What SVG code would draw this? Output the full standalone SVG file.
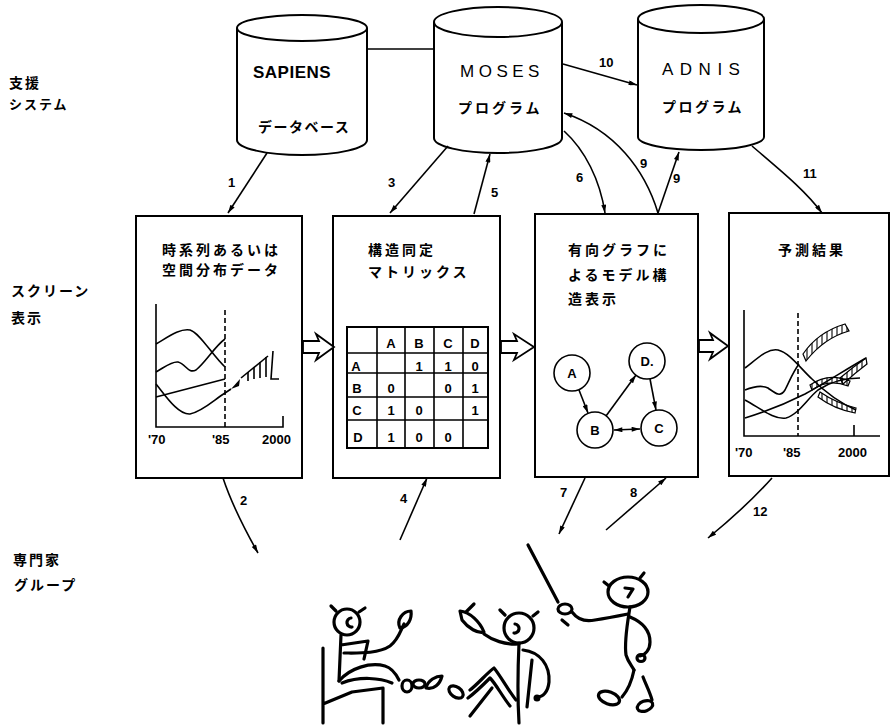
<svg xmlns="http://www.w3.org/2000/svg" width="891" height="727" viewBox="0 0 891 727">
  <style>
    .ln { fill: none; stroke: #000; stroke-width: 1.6; }
    .box { fill: #fff; stroke: #000; stroke-width: 2; }
    .cyl { fill: #fff; stroke: #000; stroke-width: 2; }
    .jp { font-family: "Noto Sans CJK JP", "Noto Sans", sans-serif; font-weight: 700; font-size: 14px; fill: #000; }
    .lat { font-family: "Liberation Sans", Arial, sans-serif; fill: #000; }
    .num { font-family: "Liberation Sans Narrow", "Liberation Sans", sans-serif; font-weight: 700; font-size: 13px; fill: #000; }
    .cell { font-family: "Liberation Sans", Arial, sans-serif; font-weight: 700; font-size: 13px; fill: #000; text-anchor: middle; }
    .fig { fill: none; stroke: #000; stroke-width: 3.2; stroke-linecap: round; stroke-linejoin: round; }
    .blk { fill: #fff; stroke: #000; stroke-width: 1.8; stroke-linejoin: miter; }
    .rib { fill: url(#hatch); stroke: #000; stroke-width: 1.2; }
  </style>
  <defs>
    <marker id="ah" viewBox="0 0 10 6" refX="10" refY="3" markerWidth="10" markerHeight="5" orient="auto-start-reverse" markerUnits="userSpaceOnUse">
      <path d="M0,0 L10,3 L0,6 Z" fill="#000"/>
    </marker>
    <pattern id="hatch" width="5" height="12" patternUnits="userSpaceOnUse">
      <line x1="2" y1="0" x2="2" y2="12" stroke="#000" stroke-width="1.1"/>
    </pattern>
  </defs>

  <rect width="891" height="727" fill="#fff"/>

  <!-- row captions -->
  <g id="captions" class="jp" letter-spacing="2">
    <text x="9" y="88">支援</text>
    <text x="9" y="109" font-size="13">システム</text>
    <text x="11" y="296">スクリーン</text>
    <text x="11" y="323">表示</text>
    <text x="13" y="565">専門家</text>
    <text x="14" y="590">グループ</text>
  </g>

  <!-- support systems -->
  <g id="sapiens">
    <path class="cyl" d="M237,28 L237,140 A65,15 0 0 0 367,140 L367,28"/>
    <ellipse class="cyl" cx="302" cy="28" rx="65" ry="13"/>
    <text class="lat" x="253" y="78" font-size="17" font-weight="700" letter-spacing="0.5">SAPIENS</text>
    <text class="jp" x="258" y="132" letter-spacing="1.5">データベース</text>
  </g>
  <g id="moses">
    <path class="cyl" d="M434,22 L434,138 A64,15 0 0 0 562,138 L562,22"/>
    <ellipse class="cyl" cx="498" cy="22" rx="64" ry="15"/>
    <text class="lat" x="460" y="77" font-size="17" letter-spacing="4.5">MOSES</text>
    <text class="jp" x="458" y="113" letter-spacing="3">プログラム</text>
  </g>
  <g id="adnis">
    <path class="cyl" d="M638,19 L638,137 A63,13 0 0 0 764,137 L764,19"/>
    <ellipse class="cyl" cx="701" cy="19" rx="63" ry="14"/>
    <text class="lat" x="662" y="75" font-size="17" letter-spacing="6.5">ADNIS</text>
    <text class="jp" x="662" y="112" letter-spacing="2.5">プログラム</text>
  </g>

  <!-- screen 1: time series -->
  <g id="screen-data">
    <rect class="box" x="136" y="216" width="166" height="262"/>
    <text class="jp" x="162" y="255" letter-spacing="3">時系列あるいは</text>
    <text class="jp" x="162" y="275" letter-spacing="3">空間分布データ</text>
    <path class="ln" d="M156,304 L156,427 L283,427 L283,416"/>
    <path class="ln" d="M225,310 L225,427" stroke-dasharray="5,3"/>
    <path class="ln" d="M156,344 C168,337 180,328 190,330 C200,333 212,355 225,367"/>
    <path class="ln" d="M156,372 C165,367 172,361 178,362 C186,364 188,374 196,370 C206,362 215,346 225,339"/>
    <path class="ln" d="M156,397 L225,379"/>
    <path class="ln" d="M156,384 C165,395 178,415 190,414 C202,412 214,400 225,393 L231,389"/>
    <path d="M231,389 L240,379 L239,386 Z" fill="#000"/>
    <path class="ln" d="M241,378 L268,356"/>
    <path class="ln" d="M248,372 L248,381 M254,367 L254,379 M260,362 L260,378 M266,357 L266,377"/>
    <path class="ln" d="M273,351 L271,379 L279,379"/>
    <g class="num" font-size="14">
      <text x="148" y="444">'70</text>
      <text x="212" y="444">'85</text>
      <text x="262" y="444">2000</text>
    </g>
  </g>

  <!-- screen 2: structure matrix -->
  <g id="screen-matrix">
    <rect class="box" x="333" y="216" width="167" height="262"/>
    <text class="jp" x="368" y="255" letter-spacing="3">構造同定</text>
    <text class="jp" x="368" y="277" letter-spacing="3">マトリックス</text>
    <rect x="347" y="327" width="141" height="121" fill="none" stroke="#000" stroke-width="2"/>
    <path class="ln" stroke-width="2" d="M377,327 V448 M405,327 V448 M434,327 V448 M463,327 V448 M347,353 H488 M347,373 H488 M347,397 H488 M347,420 H488"/>
    <text class="cell" x="391" y="348">A</text>
    <text class="cell" x="419" y="348">B</text>
    <text class="cell" x="448" y="348">C</text>
    <text class="cell" x="475" y="348">D</text>
    <text class="cell" x="356" y="371">A</text>
    <text class="cell" x="419" y="371">1</text>
    <text class="cell" x="448" y="371">1</text>
    <text class="cell" x="475" y="371">0</text>
    <text class="cell" x="357" y="393">B</text>
    <text class="cell" x="391" y="393">0</text>
    <text class="cell" x="448" y="393">0</text>
    <text class="cell" x="475" y="393">1</text>
    <text class="cell" x="357" y="415">C</text>
    <text class="cell" x="391" y="415">1</text>
    <text class="cell" x="419" y="415">0</text>
    <text class="cell" x="475" y="415">1</text>
    <text class="cell" x="358" y="442">D</text>
    <text class="cell" x="391" y="442">1</text>
    <text class="cell" x="419" y="442">0</text>
    <text class="cell" x="448" y="442">0</text>
  </g>

  <!-- screen 3: directed graph -->
  <g id="screen-graph">
    <rect class="box" x="535" y="214" width="163" height="263"/>
    <text class="jp" x="568" y="255" letter-spacing="3">有向グラフに</text>
    <text class="jp" x="568" y="280" letter-spacing="3">よるモデル構</text>
    <text class="jp" x="568" y="304" letter-spacing="3">造表示</text>
    <g fill="#fff" stroke="#000" stroke-width="1.6">
      <circle cx="572" cy="373" r="18"/>
      <circle cx="647" cy="361" r="18"/>
      <circle cx="595" cy="430" r="18"/>
      <circle cx="659" cy="428" r="18"/>
    </g>
    <text class="cell" x="572" y="378">A</text>
    <text class="cell" x="647" y="366">D.</text>
    <text class="cell" x="595" y="435">B</text>
    <text class="cell" x="659" y="433">C</text>
    <g class="ln" stroke-width="1.4" marker-end="url(#ah)">
      <path d="M579,390 L588,413"/>
      <path d="M606,416 L636,375"/>
      <path d="M650,379 L656,410"/>
      <path d="M614,430 L640,429" marker-start="url(#ah)"/>
    </g>
  </g>

  <!-- screen 4: forecast -->
  <g id="screen-forecast">
    <rect class="box" x="729" y="213" width="160" height="263"/>
    <text class="jp" x="778" y="255" letter-spacing="3">予測結果</text>
    <path class="ln" d="M744,310 L744,436 L880,436 M854,425 L854,436"/>
    <path class="ln" d="M798,313 L798,436" stroke-dasharray="5,3"/>
    <path class="ln" d="M745,368 C758,358 768,348 778,350 C790,353 800,368 812,379 C825,392 840,403 856,410"/>
    <path class="ln" d="M745,390 C755,386 762,385 768,388 C775,393 780,398 785,390 C790,380 793,372 799,364"/>
    <path class="ln" d="M745,400 C760,408 774,420 786,418 C798,415 808,398 818,390 C830,382 845,378 860,378"/>
    <path class="ln" d="M745,418 C765,412 785,404 805,394 C825,383 845,370 866,358"/>
    <path class="rib" d="M803,354 Q818,332 845,324 L849,331 Q824,338 806,361 Z"/>
    <path class="rib" d="M820,392 Q836,403 856,408 L855,413 Q834,409 818,397 Z"/>
    <path class="rib" d="M810,385 Q828,372 850,381 L848,386 Q828,378 812,390 Z"/>
    <path class="rib" d="M840,378 Q853,367 866,358 L867,364 Q855,373 843,384 Z"/>
    <g class="num" font-size="14">
      <text x="735" y="457">'70</text>
      <text x="783" y="457">'85</text>
      <text x="838" y="457">2000</text>
    </g>
  </g>

  <!-- transitions between screens -->
  <g id="transitions">
    <path class="blk" d="M303,341 L319,341 L316,334 L334,347 L316,360 L319,353 L303,353 Z"/>
    <path class="blk" d="M501,341 L517,341 L514,334 L534,347 L514,360 L517,353 L501,353 Z"/>
    <path class="blk" d="M699,340 L713,340 L710,333 L728,346 L710,359 L713,352 L699,352 Z"/>
  </g>

  <!-- numbered data flows -->
  <g id="connectors" class="ln" stroke-width="1.5" marker-end="url(#ah)">
    <path d="M367,49 L434,49" marker-end="none"/>
    <path d="M267,153 L228,213"/>
    <path d="M448,146 L390,213"/>
    <path d="M474,214 L490,154"/>
    <path d="M564,131 C585,150 600,180 605,213"/>
    <path d="M658,213 C645,170 615,130 564,113"/>
    <path d="M658,213 L679,152"/>
    <path d="M752,146 C780,170 805,190 822,213"/>
    <path d="M563,64 L637,85"/>
    <path d="M223,478 C232,505 245,530 258,553"/>
    <path d="M400,540 L427,478"/>
    <path d="M585,478 L559,534"/>
    <path d="M606,530 L666,478"/>
    <path d="M772,478 C755,497 730,520 708,538"/>
  </g>
  <g id="flow-labels" class="num">
    <text x="228" y="187">1</text>
    <text x="388" y="187">3</text>
    <text x="491" y="197">5</text>
    <text x="576" y="182">6</text>
    <text x="640" y="168">9</text>
    <text x="673" y="183">9</text>
    <text x="803" y="178">11</text>
    <text x="599" y="67">10</text>
    <text x="240" y="505">2</text>
    <text x="400" y="503">4</text>
    <text x="560" y="497">7</text>
    <text x="630" y="497">8</text>
    <text x="753" y="516">12</text>
  </g>

  <!-- expert group -->
  <g id="expert-seated">
    <circle class="fig" cx="347" cy="622" r="13"/>
    <path class="fig" d="M336,611 L331,606 M359,612 L365,608"/>
    <path class="fig" stroke-width="2.4" d="M351,618 A4.5,4.5 0 1 0 352,627"/>
    <path class="fig" d="M341,635 L339,681 M341,645 L368,641 L364,659"/>
    <path class="fig" d="M344,653 C358,653 378,654 390,646 C398,640 400,632 404,624"/>
    <path class="fig" d="M400,628 C396,620 403,611 411,611 C412,619 408,627 400,628 Z"/>
    <path class="fig" d="M339,681 C350,668 370,662 385,666 C392,668 396,674 399,680 M342,683 C360,676 380,678 392,683"/>
    <ellipse class="fig" cx="407" cy="686" rx="5" ry="6"/>
    <ellipse class="fig" cx="419" cy="684" rx="6" ry="4"/>
    <path class="fig" d="M426,688 C428,680 436,676 442,676 C440,684 434,690 426,688 Z"/>
    <path class="fig" d="M323,648 L323,723 M323,704 L352,692 L383,688 L383,723"/>
  </g>
  <g id="expert-reclining">
    <circle class="fig" cx="519" cy="628" r="15"/>
    <path class="fig" d="M505,615 L500,610 M533,616 L538,612"/>
    <path class="fig" stroke-width="2.4" d="M515,624 A4.5,4.5 0 1 1 514,633"/>
    <path class="fig" d="M460,611 C470,612 480,622 484,632 C478,634 468,628 462,620 Z M466,612 L474,604"/>
    <path class="fig" d="M484,634 C492,640 505,645 519,644"/>
    <path class="fig" d="M519,643 C518,665 517,690 519,723"/>
    <path class="fig" d="M532,660 L527,707"/>
    <path class="fig" d="M523,650 C540,652 550,665 549,682 C548,692 543,697 537,697"/>
    <circle cx="537" cy="698" r="3.5" fill="#000"/>
    <path class="fig" d="M516,700 C508,690 500,675 494,668 C488,672 478,684 470,690 M510,706 C502,696 496,684 490,678 C484,684 476,692 468,698"/>
    <ellipse class="fig" cx="456" cy="692" rx="8" ry="5" transform="rotate(35 456 692)"/>
    <path class="fig" d="M470,716 L492,688"/>
  </g>
  <g id="expert-pointing">
    <ellipse class="fig" cx="628" cy="592" rx="20" ry="15"/>
    <path class="fig" d="M609,586 L604,582 M640,578 L644,573"/>
    <path class="fig" stroke-width="2.4" d="M625,588 L633,589 L628,597"/>
    <path class="fig" d="M528,545 L558,602"/>
    <ellipse class="fig" cx="565" cy="609" rx="7" ry="5"/>
    <path class="fig" d="M562,620 L568,625"/>
    <path class="fig" d="M572,612 C578,620 586,622 595,620 C608,618 618,616 628,614"/>
    <path class="fig" d="M630,607 C628,620 624,640 626,655 C628,662 632,666 634,670"/>
    <path class="fig" d="M630,617 C642,622 650,630 650,642 C650,650 645,655 640,656"/>
    <ellipse class="fig" cx="641" cy="658" rx="4" ry="3.5"/>
    <path class="fig" d="M634,670 C632,680 628,690 622,697 M643,677 C646,685 650,692 652,700"/>
    <ellipse class="fig" cx="609" cy="698" rx="11" ry="6" transform="rotate(20 609 698)"/>
    <ellipse class="fig" cx="645" cy="706" rx="8" ry="5" transform="rotate(-20 645 706)"/>
  </g>
</svg>
